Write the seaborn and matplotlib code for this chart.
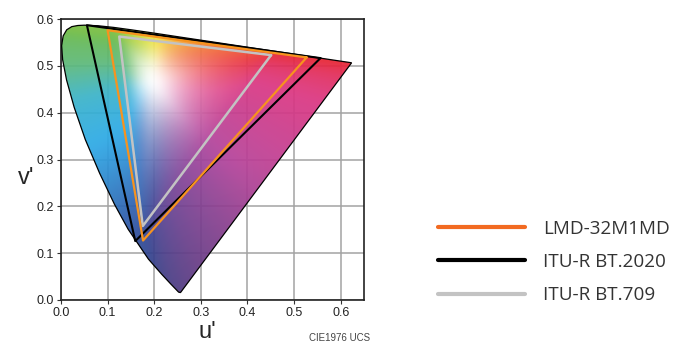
import numpy as np
import pandas as pd
import matplotlib
matplotlib.use("Agg")
import matplotlib.pyplot as plt
from matplotlib.patches import Polygon
from matplotlib.lines import Line2D
from matplotlib.colors import rgb_to_hsv
import seaborn as sns

# Spectral locus (u', v'), 380 nm -> 700 nm
locus_u = [0.2568, 0.2557, 0.2522, 0.2347, 0.2161, 0.1877, 0.1441, 0.1147, 0.0828,
           0.0521, 0.0282, 0.0119, 0.0035, 0.0014, 0.0046, 0.0123, 0.0231, 0.0360,
           0.0501, 0.0792, 0.1127, 0.1531, 0.2026, 0.2623, 0.3315, 0.4035, 0.4692,
           0.5203, 0.5830, 0.6234]
locus_v = [0.0165, 0.0159, 0.0169, 0.0350, 0.0549, 0.0871, 0.1510, 0.2044, 0.2708,
           0.3427, 0.4117, 0.4699, 0.5131, 0.5431, 0.5638, 0.5770, 0.5837, 0.5861,
           0.5868, 0.5856, 0.5821, 0.5766, 0.5694, 0.5604, 0.5501, 0.5393, 0.5296,
           0.5219, 0.5125, 0.5065]

# Gamut primaries (R, G, B)
series = ["LMD-32M1MD", "ITU-R BT.2020", "ITU-R BT.709"]
lmd_u = [0.527, 0.100, 0.176]
lmd_v = [0.518, 0.576, 0.127]
bt2020_u = [0.5566, 0.0556, 0.1593]
bt2020_v = [0.5165, 0.5868, 0.1258]
bt709_u = [0.4507, 0.1250, 0.1754]
bt709_v = [0.5229, 0.5625, 0.1579]
colors = ["#f7931e", "#000000", "#c3c3c3"]
legend_colors = ["#f26a21", "#000000", "#c3c3c3"]

xticks = [0.0, 0.1, 0.2, 0.3, 0.4, 0.5, 0.6]
yticks = [0.0, 0.1, 0.2, 0.3, 0.4, 0.5, 0.6]

# muted palette of the printed chart, by hue (degrees)
pal_h = [0, 30, 60, 95, 130, 160, 180, 200, 225, 250, 275, 305, 335, 360]
pal_rgb = np.array([
    [0.91, 0.12, 0.17],
    [0.95, 0.45, 0.20],
    [0.96, 0.90, 0.25],
    [0.62, 0.80, 0.22],
    [0.40, 0.72, 0.25],
    [0.36, 0.72, 0.45],
    [0.22, 0.70, 0.78],
    [0.16, 0.66, 0.90],
    [0.18, 0.38, 0.72],
    [0.20, 0.28, 0.62],
    [0.45, 0.26, 0.60],
    [0.70, 0.25, 0.60],
    [0.86, 0.20, 0.50],
    [0.91, 0.12, 0.17],
])

sns.set_theme(style="ticks")
plt.rcParams["font.family"] = ["Liberation Sans", "DejaVu Sans"]

W, H = 690, 363
fig = plt.figure(figsize=(W / 100, H / 100), dpi=100)
ax = fig.add_axes([61 / W, 1 - 300 / H, (364 - 61) / W, (300 - 19) / H])

# colour background
n = 500
uu, vv = np.meshgrid(np.linspace(0, 0.65, n), np.linspace(0.001, 0.6, n))
den = 6 * uu - 16 * vv + 12
x = 9 * uu / den
y = 4 * vv / den
X = x / y
Z = (1 - x - y) / y
Y = np.ones_like(X)
M = np.array([[3.2406, -1.5372, -0.4986],
              [-0.9689, 1.8758, 0.0415],
              [0.0557, -0.2040, 1.0570]])
rgb = np.stack([X, Y, Z], axis=-1) @ M.T
rgb = np.clip(rgb, 0, None)
rgb = rgb / rgb.max(axis=-1, keepdims=True)
rgb = np.where(rgb <= 0.0031308, 12.92 * rgb, 1.055 * np.power(rgb, 1 / 2.4) - 0.055)
rgb = np.clip(rgb, 0, 1)
hsv = rgb_to_hsv(rgb)
hdeg = hsv[..., 0] * 360
s = (1 - np.exp(-(hsv[..., 1] / 0.5) ** 2))[..., None]
pal = np.stack([np.interp(hdeg, pal_h, pal_rgb[:, k]) for k in range(3)], axis=-1)
img = (1 - s) * 1.0 + s * pal
shade = (0.82 + 0.18 * np.clip(vv / 0.3, 0, 1))[..., None]
img = np.clip(img * shade, 0, 1)

# soften with a small gaussian blur
sig = 7
kx = np.arange(-3 * sig, 3 * sig + 1)
kern = np.exp(-0.5 * (kx / sig) ** 2)
kern /= kern.sum()
pad = len(kx) // 2
for axis in (0, 1):
    padded = np.pad(img, [(pad, pad) if a == axis else (0, 0) for a in range(3)], mode="edge")
    img = np.apply_along_axis(lambda m: np.convolve(m, kern, mode="valid"), axis, padded)
img = np.clip(img, 0, 1)

im = ax.imshow(img, origin="lower", extent=[0, 0.65, 0.001, 0.6], aspect="auto",
               interpolation="bilinear", zorder=1, alpha=0.93)
poly = Polygon(np.column_stack([locus_u, locus_v]), closed=True, facecolor="none",
               edgecolor="black", linewidth=0.9, zorder=3)
ax.add_patch(poly)
im.set_clip_path(poly)

# gamut triangles
gam = [(lmd_u, lmd_v), (bt2020_u, bt2020_v), (bt709_u, bt709_v)]
order = [2, 1, 0]
lws = [1.6, 1.5, 1.8]
for i in order:
    gu, gv = gam[i]
    df = pd.DataFrame({"u": gu + [gu[0]], "v": gv + [gv[0]]})
    sns.lineplot(data=df, x="u", y="v", sort=False, estimator=None, color=colors[i],
                 lw=lws[i], ax=ax, zorder=4 + (2 - i))

ax.set_xlim(0, 0.65)
ax.set_ylim(0, 0.6)
ax.set_xticks(xticks)
ax.set_yticks(yticks)
ax.set_xticklabels([f"{t:.1f}" for t in xticks], fontsize=9, color="#222222")
ax.set_yticklabels([f"{t:.1f}" for t in yticks], fontsize=9, color="#222222")
ax.grid(True, color="#a3a3a3", lw=1.1, zorder=0)
ax.set_axisbelow(True)
ax.tick_params(length=3, width=0.8, pad=2, color="#333333")
for sp in ax.spines.values():
    sp.set_color("#222222")
    sp.set_linewidth(1.2)
ax.set_xlabel("u'", fontsize=17, va="center")
ax.set_ylabel("v'", fontsize=17, rotation=0, va="center", ha="center")
ax.xaxis.set_label_coords(0.482, -0.115)
ax.yaxis.set_label_coords(-0.115, 0.434)

fig.text(370 / W, 1 - 338 / H, "CIE1976 UCS", fontsize=7, color="#444444",
         ha="right", va="center")

# legend
handles = [Line2D([], [], color=c, lw=3) for c in legend_colors]
fig.legend(handles, series, loc="center left", bbox_to_anchor=(421 / W, 1 - 262 / H),
           frameon=False, handlelength=4.6, handletextpad=0.95,
           labelspacing=0.8, prop={"family": "Open Sans", "size": 13.6},
           labelcolor="#333333")

fig.savefig("out.png", dpi=100)
